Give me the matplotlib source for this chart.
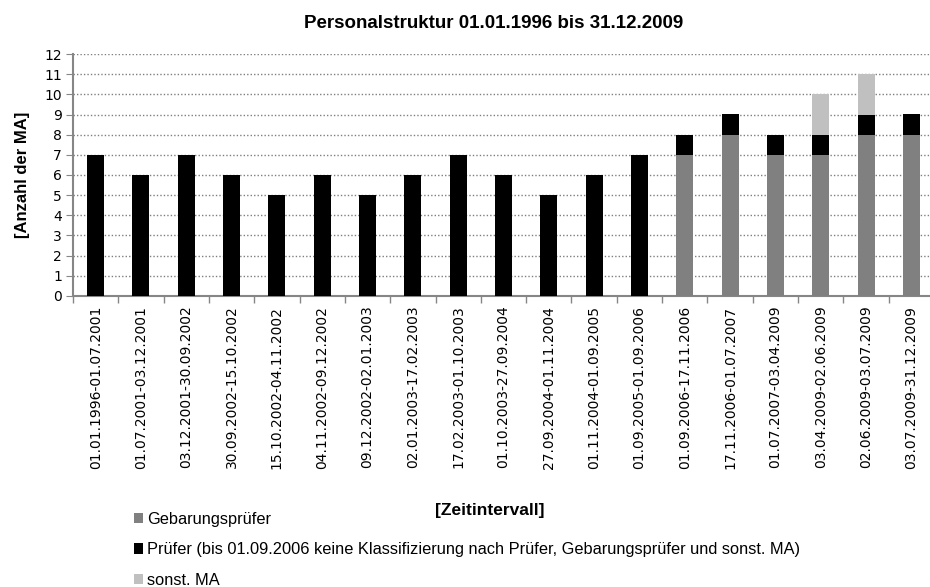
import matplotlib
matplotlib.use("Agg")
import matplotlib.pyplot as plt
import numpy as np

intervals = [
    "01.01.1996-01.07.2001", "01.07.2001-03.12.2001", "03.12.2001-30.09.2002",
    "30.09.2002-15.10.2002", "15.10.2002-04.11.2002", "04.11.2002-09.12.2002",
    "09.12.2002-02.01.2003", "02.01.2003-17.02.2003", "17.02.2003-01.10.2003",
    "01.10.2003-27.09.2004", "27.09.2004-01.11.2004", "01.11.2004-01.09.2005",
    "01.09.2005-01.09.2006", "01.09.2006-17.11.2006", "17.11.2006-01.07.2007",
    "01.07.2007-03.04.2009", "03.04.2009-02.06.2009", "02.06.2009-03.07.2009",
    "03.07.2009-31.12.2009",
]
gebarungspruefer = [0, 0, 0, 0, 0, 0, 0, 0, 0, 0, 0, 0, 0, 7, 8, 7, 7, 8, 8]
pruefer = [7, 6, 7, 6, 5, 6, 5, 6, 7, 6, 5, 6, 7, 1, 1, 1, 1, 1, 1]
sonst_ma = [0, 0, 0, 0, 0, 0, 0, 0, 0, 0, 0, 0, 0, 0, 0, 0, 2, 2, 0]

narrow = ["Liberation Sans", "DejaVu Sans"]

fig = plt.figure(figsize=(9.3, 5.87), dpi=100)
ax = fig.add_axes([73 / 930, 1 - 296 / 587, (934 - 73) / 930, (296 - 54) / 587])

x = np.arange(len(intervals))
g = np.array(gebarungspruefer)
p = np.array(pruefer)
s = np.array(sonst_ma)
w = 0.375
b1 = ax.bar(x, g, w, color="#808080", label="Gebarungsprüfer", zorder=3)
b2 = ax.bar(x, p, w, bottom=g, color="#000000",
            label="Prüfer (bis 01.09.2006 keine Klassifizierung nach Prüfer, Gebarungsprüfer und sonst. MA)",
            zorder=3)
b3 = ax.bar(x, s, w, bottom=g + p, color="#c0c0c0", label="sonst. MA", zorder=3)

ax.set_xlim(-0.5, len(intervals) - 0.5)
ax.set_ylim(0, 12)
ax.set_yticks(range(0, 13))
ax.set_xticks(x)
ax.set_xticklabels(intervals, rotation=90, fontsize=10, family="DejaVu Sans")
ax.set_xticks(np.arange(-0.5, len(intervals), 1), minor=True)
ax.tick_params(axis="x", which="major", length=0, pad=7)
ax.tick_params(axis="x", which="minor", length=5, color="#868686", width=1)
ax.tick_params(axis="y", length=5, color="#868686", labelsize=10, pad=3)

ax.grid(axis="y", linestyle=(0, (1, 1.5)), color="#7f7f7f", linewidth=1, zorder=0)
for side in ["top", "right"]:
    ax.spines[side].set_visible(False)
for side in ["left", "bottom"]:
    ax.spines[side].set_color("#868686")
    ax.spines[side].set_linewidth(1.5)

fig.text(494 / 930, 1 - 24 / 587, "Personalstruktur 01.01.1996 bis 31.12.2009",
         ha="center", va="center", fontsize=13.5, fontweight="bold", family=narrow)
fig.text(22 / 930, 1 - 175 / 587, "[Anzahl der MA]", rotation=90, ha="center",
         va="center", fontsize=12, fontweight="bold", family=narrow)
fig.text(490 / 930, 1 - 510 / 587, "[Zeitintervall]", ha="center", va="center",
         fontsize=12.5, fontweight="bold", family=narrow)

fig.legend(handles=[b1, b2, b3], loc="upper left", bbox_to_anchor=(127 / 930, 1 - 505 / 587),
           frameon=False, prop={"family": narrow, "size": 11.8}, handlelength=0.6,
           handleheight=0.6, handletextpad=0.25, labelspacing=0.95, borderaxespad=0)

fig.savefig("out.png", dpi=100)
